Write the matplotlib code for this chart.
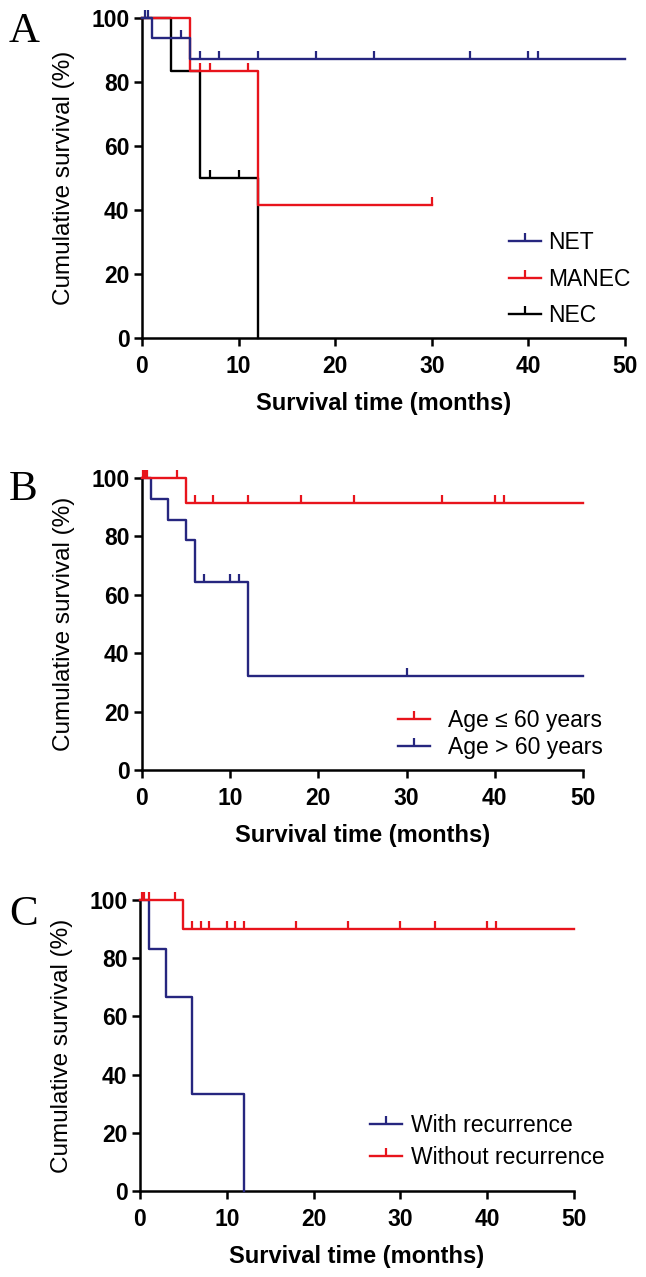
import numpy as np
import matplotlib
matplotlib.use("Agg")
import matplotlib.pyplot as plt
from matplotlib.lines import Line2D

plt.rcParams['font.family'] = ['Liberation Sans', 'DejaVu Sans']

BLUE = '#26267f'
RED = '#e8141c'
BLACK = '#000000'

# ---- panel A: histological type ----
net_t = [0, 1, 5, 50]
net_s = [100, 93.8, 87.1, 87.1]
net_cens = [0.3, 0.6, 4, 6, 8, 12, 18, 24, 34, 40, 41]

manec_t = [0, 5, 12, 30]
manec_s = [100, 83.3, 41.7, 41.7]
manec_cens = [6, 7, 11, 30]

nec_t = [0, 3, 6, 12]
nec_s = [100, 83.3, 50, 0]
nec_cens = [7, 10]

# ---- panel B: age ----
young_t = [0, 5, 50]
young_s = [100, 91.3, 91.3]
young_cens = [0.15, 0.35, 0.6, 4, 6, 8, 12, 18, 24, 34, 40, 41]

old_t = [0, 1, 3, 5, 6, 12, 50]
old_s = [100, 92.9, 85.7, 78.6, 64.3, 32.1, 32.1]
old_cens = [7, 10, 11, 30]

# ---- panel C: recurrence ----
rec_t = [0, 1, 3, 6, 12]
rec_s = [100, 83.3, 66.7, 33.3, 0]
rec_cens = []

norec_t = [0, 5, 50]
norec_s = [100, 90.0, 90.0]
norec_cens = [0.2, 0.5, 1.0, 4, 6, 7, 8, 10, 11, 12, 18, 24, 30, 34, 40, 41]

W, H = 646, 1277
fig = plt.figure(figsize=(W / 100, H / 100), dpi=100)


def make_ax(left, right, top, bottom):
    ax = fig.add_axes([left / W, 1 - bottom / H, (right - left) / W, (bottom - top) / H])
    ax.set_xlim(0, 50)
    ax.set_ylim(0, 100)
    ax.set_xticks([0, 10, 20, 30, 40, 50])
    ax.set_yticks([0, 20, 40, 60, 80, 100])
    for s in ['top', 'right']:
        ax.spines[s].set_visible(False)
    for s in ['left', 'bottom']:
        ax.spines[s].set_linewidth(1.8)
    ax.tick_params(direction='out', length=6, width=1.8, labelsize=16.5, pad=3)
    ax.tick_params(axis='x', pad=6)
    for lab in ax.get_xticklabels() + ax.get_yticklabels():
        lab.set_fontweight('bold')
    ax.set_xlabel('Survival time (months)', fontsize=17, fontweight='bold', labelpad=10)
    ax.set_ylabel('Cumulative survival (%)', fontsize=17.5, labelpad=12)
    return ax


def km(ax, t, s, cens, color):
    ax.step(t, s, where='post', color=color, lw=1.7, clip_on=False, zorder=3)
    if len(cens):
        idx = np.searchsorted(t, cens, side='right') - 1
        cy = np.array(s)[idx]
        ax.plot(cens, cy, ls='none', marker=2, ms=6, mew=1.6, color=color,
                clip_on=False, zorder=3)


def handle(color):
    return Line2D([0], [0], color=color, lw=1.7, marker=2, ms=6, mew=1.6)


axA = make_ax(142, 625, 18, 338)
km(axA, nec_t, nec_s, nec_cens, BLACK)
km(axA, manec_t, manec_s, manec_cens, RED)
km(axA, net_t, net_s, net_cens, BLUE)
axA.legend([handle(BLUE), handle(RED), handle(BLACK)], ['NET', 'MANEC', 'NEC'],
           loc='upper left', bbox_to_anchor=(0.76, 0.335), frameon=False,
           fontsize=16.5, handlelength=1.4, handletextpad=0.3, labelspacing=0.6,
           borderpad=0, borderaxespad=0)

axB = make_ax(142, 583, 478, 770)
km(axB, old_t, old_s, old_cens, BLUE)
km(axB, young_t, young_s, young_cens, RED)
axB.legend([handle(RED), handle(BLUE)], ['Age \u2264 60 years', 'Age > 60 years'],
           loc='upper left', bbox_to_anchor=(0.58, 0.21), frameon=False,
           fontsize=16.5, handlelength=1.4, handletextpad=0.8, labelspacing=0.2,
           borderpad=0, borderaxespad=0)

axC = make_ax(140, 574, 900, 1191)
km(axC, rec_t, rec_s, rec_cens, BLUE)
km(axC, norec_t, norec_s, norec_cens, RED)
axC.legend([handle(BLUE), handle(RED)], ['With recurrence', 'Without recurrence'],
           loc='upper left', bbox_to_anchor=(0.53, 0.265), frameon=False,
           fontsize=16.5, handlelength=1.4, handletextpad=0.4, labelspacing=0.4,
           borderpad=0, borderaxespad=0)

for letter, ybase in [('A', 42), ('B', 500), ('C', 925)]:
    fig.text(9 / W, 1 - ybase / H, letter, fontsize=31, family='Liberation Serif',
             va='baseline', ha='left')

fig.savefig('out.png', dpi=100)
